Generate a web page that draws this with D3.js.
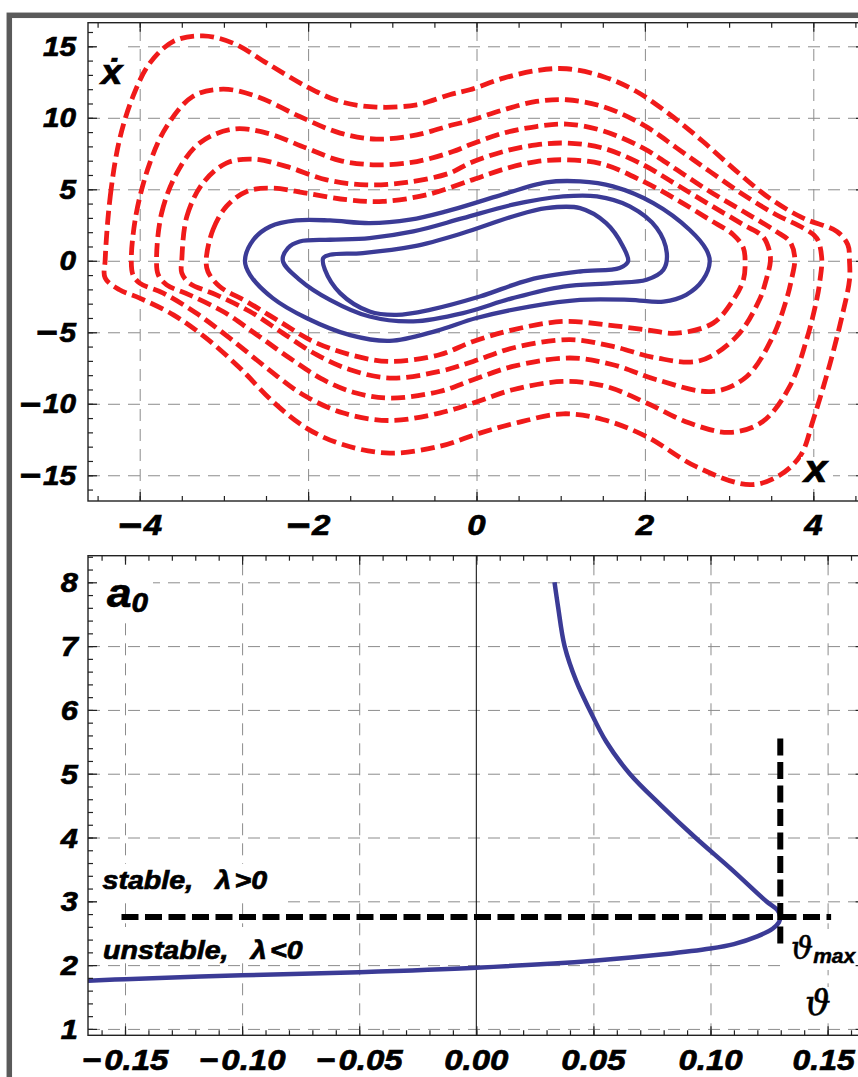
<!DOCTYPE html>
<html><head><meta charset="utf-8">
<script src="https://cdn.jsdelivr.net/npm/d3@7"></script>
<style>
html,body{margin:0;padding:0;background:#fff;}
svg{display:block;}
</style></head><body>
<script>
// ---------------- DATA ----------------
// Top panel: phase-plane orbits (x, xdot)
const redOrbit1 = [[-3.21,0.07],[-3.13,2.17],[-2.97,3.8],[-2.73,4.85],[-2.42,5.08],[-2.02,4.73],[-1.54,4.27],[-1.11,4.15],[-0.59,4.62],[-0.08,5.6],[0.32,6.4],[0.71,6.94],[1.07,7.06],[1.50,6.76],[1.98,5.55],[2.38,4.27],[2.77,2.87],[3.05,1.82],[3.17,0.89],[3.19,-0.05],[3.17,-1.33],[3.05,-2.73],[2.81,-4.36],[2.38,-5.06],[2.02,-4.83],[1.54,-4.48],[1.03,-4.24],[0.43,-4.83],[-0.04,-5.64],[-0.44,-6.57],[-1.03,-7.04],[-1.50,-6.57],[-1.94,-5.64],[-2.34,-4.24],[-2.73,-2.85],[-3.05,-1.80],[-3.19,-0.75]];
const redOrbit2 = [[-3.50,0.07],[-3.44,3.1],[-3.25,5.43],[-2.97,6.83],[-2.65,7.11],[-2.26,6.6],[-1.78,5.66],[-1.31,5.31],[-0.83,5.48],[-0.32,6.13],[-0.08,6.83],[0.32,7.64],[0.71,8.11],[1.07,8.23],[1.50,7.88],[1.98,6.71],[2.38,5.31],[2.77,3.92],[3.17,2.52],[3.40,1.70],[3.48,0.65],[3.49,-0.05],[3.44,-1.33],[3.36,-2.73],[3.09,-5.29],[2.65,-6.99],[2.14,-6.8],[1.62,-5.99],[1.11,-5.52],[0.43,-6.1],[-0.04,-7.04],[-0.44,-7.74],[-1.03,-8.2],[-1.50,-7.62],[-1.90,-6.57],[-2.30,-5.06],[-2.69,-3.55],[-3.09,-2.38],[-3.41,-1.56],[-3.50,-0.86]];
const redOrbit3 = [[-3.80,0.07],[-3.74,3.33],[-3.56,6.13],[-3.29,8.23],[-2.89,9.21],[-2.49,8.93],[-2.02,7.88],[-1.62,7.01],[-1.19,6.71],[-0.71,6.94],[-0.28,7.64],[-0.08,8.11],[0.32,8.93],[0.71,9.39],[1.07,9.56],[1.50,9.09],[1.98,7.88],[2.38,6.36],[2.77,4.85],[3.17,3.45],[3.56,2.05],[3.72,1.35],[3.78,0.19],[3.74,-1.33],[3.68,-2.73],[3.52,-5.29],[3.21,-8.09],[2.81,-9.14],[2.14,-8.32],[1.62,-7.27],[1.11,-6.8],[0.43,-7.39],[-0.04,-8.32],[-0.44,-9.14],[-1.03,-9.6],[-1.43,-9.25],[-1.82,-8.32],[-2.22,-6.8],[-2.61,-5.17],[-3.01,-3.55],[-3.41,-2.38],[-3.68,-1.68],[-3.78,-0.98]];
const redOrbit4 = [[-4.10,0.07],[-4.04,3.33],[-3.88,6.83],[-3.68,9.39],[-3.37,11.49],[-3.01,12.0],[-2.61,11.49],[-2.10,10.09],[-1.62,8.93],[-1.19,8.51],[-0.71,8.81],[-0.28,9.51],[-0.08,9.8],[0.32,10.56],[0.71,11.14],[1.07,11.26],[1.50,10.79],[1.98,9.51],[2.38,7.88],[2.77,6.25],[3.17,4.62],[3.56,3.22],[3.88,2.29],[4.04,1.59],[4.10,0.19],[4.08,-1.33],[4.04,-2.73],[3.92,-5.52],[3.72,-8.79],[3.40,-11.24],[3.01,-12.0],[2.53,-11.35],[2.02,-9.95],[1.54,-8.79],[1.03,-8.44],[0.43,-9.02],[-0.04,-9.95],[-0.44,-10.65],[-1.03,-11.17],[-1.58,-10.65],[-2.06,-9.37],[-2.49,-7.5],[-2.93,-5.41],[-3.33,-3.66],[-3.72,-2.26],[-4.0,-1.56],[-4.08,-0.98]];
const redOrbit5 = [[-4.41,0.07],[-4.35,4.5],[-4.24,8.46],[-4.08,11.49],[-3.88,13.82],[-3.60,15.34],[-3.25,15.73],[-2.89,15.22],[-2.49,13.82],[-2.02,12.19],[-1.62,11.14],[-1.19,10.75],[-0.71,10.91],[-0.32,11.61],[-0.08,11.96],[0.32,12.77],[0.71,13.3],[1.07,13.43],[1.50,12.89],[1.90,11.84],[2.30,10.21],[2.69,8.34],[3.09,6.25],[3.48,4.38],[3.88,2.98],[4.28,2.05],[4.41,1.12],[4.43,-0.05],[4.43,-1.33],[4.35,-3.66],[4.2,-7.15],[4.0,-11.1],[3.85,-13.6],[3.60,-15.0],[3.25,-15.66],[2.61,-14.4],[2.02,-12.3],[1.5,-11.1],[1.03,-10.7],[0.5,-11.3],[0.04,-12.05],[-0.44,-12.98],[-1.03,-13.45],[-1.58,-12.87],[-2.02,-11.7],[-2.42,-9.84],[-2.81,-7.5],[-3.21,-5.41],[-3.60,-3.78],[-4.0,-2.61],[-4.24,-2.03],[-4.41,-1.21]];
const blueOrbit1 = [[-1.82,0.19],[-1.74,0.42],[-1.35,0.54],[-0.75,1.0],[-0.16,1.94],[0.43,3.1],[0.83,3.68],[1.23,3.68],[1.54,2.63],[1.74,1.0],[1.80,-0.05],[1.70,-0.51],[1.23,-0.75],[0.63,-1.33],[0.04,-2.5],[-0.555,-3.43],[-0.95,-3.78],[-1.27,-3.55],[-1.62,-2.26],[-1.80,-0.63]];
const blueOrbit2 = [[-2.30,0.0],[-2.24,0.89],[-2.10,1.35],[-1.74,1.47],[-1.27,1.59],[-0.75,2.05],[-0.16,2.98],[0.43,3.92],[1.03,4.5],[1.43,4.5],[1.82,3.8],[2.14,2.29],[2.26,0.54],[2.22,-0.63],[2.02,-1.33],[1.62,-1.56],[1.03,-1.80],[0.43,-2.61],[-0.16,-3.66],[-0.75,-4.24],[-1.27,-3.9],[-1.74,-2.73],[-2.10,-1.33]];
const blueOrbit3 = [[-2.75,0.0],[-2.65,1.47],[-2.45,2.4],[-2.14,2.82],[-1.74,2.82],[-1.27,2.63],[-0.79,2.87],[-0.36,3.45],[0.24,4.5],[0.83,5.48],[1.23,5.55],[1.62,5.2],[2.10,4.03],[2.53,2.17],[2.73,0.77],[2.77,-0.05],[2.69,-1.33],[2.49,-2.38],[2.22,-2.85],[1.82,-2.73],[1.23,-2.73],[0.63,-3.2],[0.0,-4.0],[-0.475,-4.9],[-1.03,-5.6],[-1.50,-5.2],[-2.02,-4.0],[-2.42,-2.61],[-2.69,-0.98]];
const redOrbits = [redOrbit1, redOrbit2, redOrbit3, redOrbit4, redOrbit5];
const blueOrbits = [blueOrbit1, blueOrbit2, blueOrbit3];

// Bottom panel: a0 vs theta
const thetaUpper = [0.0334,0.0349,0.0377,0.0427,0.0484,0.0555,0.0655,0.079,0.0935,0.109,0.1238,0.1286,0.1298];
const a0Upper    = [8.0,7.62,7.0,6.45,6.0,5.5,5.0,4.5,4.0,3.5,3.0,2.86,2.754];
const thetaLower = [0.1292,0.1265,0.12,0.11,0.10,0.08,0.05,0.0,-0.05,-0.10,-0.15,-0.1658];
const a0Lower    = [2.67,2.57,2.45,2.33,2.26,2.17,2.07,1.96,1.89,1.84,1.78,1.755];
const thetaMax = 0.1298, a0Crit = 2.754;
const hLineTheta = [-0.1515, 0.1515];
const vLineA0 = [2.26, 5.55];

// Ticks
const topXTicks = [-4,-2,0,2,4];
const topXLabels = ["−4","−2","0","2","4"];
const topYTicks = [-15,-10,-5,0,5,10,15];
const topYLabels = ["−15","−10","−5","0","5","10","15"];
const botXTicks = [-0.15,-0.10,-0.05,0,0.05,0.10,0.15];
const botXLabels = ["−0.15","−0.10","−0.05","0.00","0.05","0.10","0.15"];
const botYTicks = [1,2,3,4,5,6,7,8];
const botYLabels = ["1","2","3","4","5","6","7","8"];

// ---------------- DRAW ----------------
const W=858, H=1077, SX=1.1;
const SANS = "'Liberation Sans', Arial, sans-serif";
const SERIF = "'DejaVu Serif', 'Liberation Serif', serif";
const svg = d3.select("body").append("svg").attr("width",W).attr("height",H);
svg.append("rect").attr("width",W).attr("height",H).attr("fill","#fff");
svg.append("rect").attr("x",9.3).attr("y",15.3).attr("width",980).attr("height",1200)
  .attr("fill","none").attr("stroke","#5a5a5a").attr("stroke-width",5.5);

const P1 = {l:88, r:865, t:22.7, b:501};
const x1 = d3.scaleLinear().domain([-4.614,4.614]).range([P1.l,P1.r]);
const y1 = d3.scaleLinear().domain([-16.8,16.65]).range([P1.b,P1.t]);
const P2 = {l:88, r:864.6, t:555.7, b:1035.3};
const x2 = d3.scaleLinear().domain([-0.1658,0.1658]).range([P2.l,P2.r]);
const y2 = d3.scaleLinear().domain([0.9,8.417]).range([P2.b,P2.t]);

const defs = svg.append("defs");
[["c1",P1],["c2",P2]].forEach(([id,P])=>{
  defs.append("clipPath").attr("id",id).append("rect")
    .attr("x",P.l).attr("y",P.t).attr("width",P.r-P.l).attr("height",P.b-P.t);
});

function grid(xs, ys, P, xv, yv){
  const g = svg.append("g");
  const st = s=>{s.select(".domain").remove();
    s.selectAll("line").attr("stroke","#8c8c8c").attr("stroke-width",1).attr("stroke-dasharray","12,8");};
  g.append("g").attr("transform",`translate(0,${P.b})`)
    .call(d3.axisBottom(xs).tickValues(xv).tickSize(-(P.b-P.t)).tickFormat("")).call(st);
  g.append("g").attr("transform",`translate(${P.l},0)`)
    .call(d3.axisLeft(ys).tickValues(yv).tickSize(-(P.r-P.l)).tickFormat("")).call(st);
}
grid(x1,y1,P1,topXTicks,topYTicks);
grid(x2,y2,P2,botXTicks.filter(d=>d!==0),botYTicks);

// x=0 axis line in bottom panel
svg.append("line").attr("x1",x2(0)).attr("x2",x2(0)).attr("y1",P2.t).attr("y2",P2.b)
  .attr("stroke","#000").attr("stroke-width",1);

// Orbits
const orbitLine = d3.line().x(d=>x1(d[0])).y(d=>y1(d[1])).curve(d3.curveCatmullRomClosed.alpha(0.5));
const gTop = svg.append("g").attr("clip-path","url(#c1)");
gTop.selectAll("path.red").data(redOrbits).join("path").attr("class","red")
  .attr("d",orbitLine).attr("fill","none").attr("stroke","#f01a1a")
  .attr("stroke-width",4.8).attr("stroke-dasharray","14,6");
gTop.selectAll("path.blue").data(blueOrbits).join("path").attr("class","blue")
  .attr("d",orbitLine).attr("fill","none").attr("stroke","#3b3b96").attr("stroke-width",4.3);

// Bifurcation curve
const bifPts = thetaUpper.map((t,i)=>[t,a0Upper[i]]).concat(thetaLower.map((t,i)=>[t,a0Lower[i]]));
const bifLine = d3.line().x(d=>x2(d[0])).y(d=>y2(d[1])).curve(d3.curveCatmullRom.alpha(0.5));
const gBot = svg.append("g").attr("clip-path","url(#c2)");
gBot.append("path").datum(bifPts).attr("d",bifLine).attr("fill","none")
  .attr("stroke","#3b3b96").attr("stroke-width",4.5);

// Black dashed lines
gBot.append("line").attr("x1",x2(hLineTheta[0])).attr("x2",x2(hLineTheta[1]))
  .attr("y1",y2(a0Crit)).attr("y2",y2(a0Crit))
  .attr("stroke","#000").attr("stroke-width",6).attr("stroke-dasharray","17,6.5");
gBot.append("line").attr("x1",x2(thetaMax)).attr("x2",x2(thetaMax))
  .attr("y1",y2(vLineA0[1])).attr("y2",y2(vLineA0[0]))
  .attr("stroke","#000").attr("stroke-width",6).attr("stroke-dasharray","17,6.5");

// Label backgrounds
const bgs = [[96,46,32,44],[801,457,32,31],[89,557,64,66],[97,864,185,39],[97,927,229,35],[788,929,70,41],[802,987,30,35]];
svg.selectAll("rect.bg").data(bgs).join("rect").attr("class","bg")
  .attr("x",d=>d[0]).attr("y",d=>d[1]).attr("width",d=>d[2]).attr("height",d=>d[3]).attr("fill","#fff");

// Generic scaled text
function stext(x,y,size,anchor,opts={}){
  return svg.append("text").attr("transform",`translate(${x},${y}) scale(${opts.sx||SX},1)`)
    .attr("text-anchor",anchor).attr("font-family",opts.family||SANS)
    .attr("font-weight",opts.weight||"bold").attr("font-style","italic")
    .attr("font-size",size).attr("fill","#000")
    .attr("stroke","#000").attr("stroke-width",opts.sw!=null?opts.sw:0.7);
}
function numLabel(t, s, size, big){
  if (s[0]==="−"){
    if (big){
      t.append("tspan").attr("font-size",size*1.25).attr("dy",size*0.09).text("−");
      t.append("tspan").attr("dx",2).attr("dy",-size*0.09).text(s.slice(1));
    } else {
      t.append("tspan").text("−");
      t.append("tspan").attr("dx",3).text(s.slice(1));
    }
  } else t.text(s);
}
topYTicks.forEach((v,i)=>numLabel(stext(76, y1(v)+9.5, 27, "end"), topYLabels[i], 27, true));
topXTicks.forEach((v,i)=>numLabel(stext(x1(v), 535, 30, "middle"), topXLabels[i], 30, true));
botYTicks.forEach((v,i)=>numLabel(stext(78, y2(v)+10, 28, "end"), botYLabels[i], 28, false));
botXTicks.forEach((v,i)=>{
  const last = i===botXTicks.length-1;
  numLabel(stext(x2(v)-(last?4:0), 1069.5, last?29:30, "middle"), botXLabels[i], 30, false);
});

// Axis labels
stext(101, 83.5, 35, "start").text("ẋ");
stext(804, 482, 38, "start").text("x");
const a0t = stext(107, 606.5, 40, "start");
a0t.append("tspan").text("a");
a0t.append("tspan").attr("font-size",27).attr("dy",5).text("0");
const tm = stext(791, 959, 31, "start", {family:SERIF, weight:"normal", sx:1, sw:0.5});
tm.append("tspan").text("ϑ");
tm.append("tspan").attr("font-family",SANS).attr("font-weight","bold").attr("font-size",21).attr("dy",4).attr("stroke-width",0.5).text("max");
stext(805, 1015, 36, "start", {family:SERIF, weight:"normal", sx:1, sw:0.5}).text("ϑ");

const st = stext(102.5, 888.7, 26, "start");
st.append("tspan").text("stable,");
st.append("tspan").attr("dx",13).text(" λ");
st.append("tspan").attr("dx",3).text(">0");
const ut = stext(103, 958.7, 26, "start");
ut.append("tspan").text("unstable,");
ut.append("tspan").attr("dx",13).text(" λ");
ut.append("tspan").attr("dx",3).text("<0");

// Frames and ticks
function frame(xs, ys, P, xMaj, xMin, yMaj, yMin){
  const g = svg.append("g");
  const clean = s=>{s.select(".domain").remove(); s.selectAll("line").attr("stroke","#222").attr("stroke-width",1.2);};
  const axes = [
    [d3.axisBottom(xs), `translate(0,${P.b})`, xMaj, xMin],
    [d3.axisTop(xs), `translate(0,${P.t})`, xMaj, xMin],
    [d3.axisLeft(ys), `translate(${P.l},0)`, yMaj, yMin],
    [d3.axisRight(ys), `translate(${P.r},0)`, yMaj, yMin]
  ];
  axes.forEach(([ax,tr,maj,min])=>{
    g.append("g").attr("transform",tr).call(ax.tickValues(min).tickSize(-5).tickFormat("")).call(clean);
    g.append("g").attr("transform",tr).call(ax.tickValues(maj).tickSize(-9).tickFormat("")).call(clean);
  });
  g.append("rect").attr("x",P.l).attr("y",P.t).attr("width",P.r-P.l).attr("height",P.b-P.t)
    .attr("fill","none").attr("stroke","#222").attr("stroke-width",1.4);
}
frame(x1,y1,P1,topXTicks,d3.range(-4.5,4.51,0.5),topYTicks,d3.range(-16,16.5,1));
frame(x2,y2,P2,botXTicks,d3.range(-16,17,1).map(d=>d/100),botYTicks,d3.range(5,43,1).map(d=>d/5));
</script>
</body></html>
